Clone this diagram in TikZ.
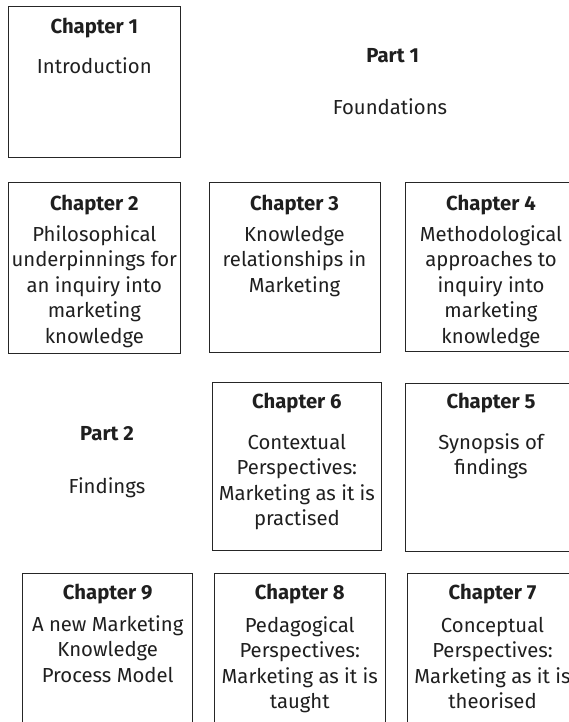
\documentclass[tikz,border=0pt]{standalone}
\usepackage{fontspec}
\setmainfont{Fira Sans}
\begin{document}
\begin{tikzpicture}[x=1pt,y=-1pt,
  chapbox/.style={draw=black!85, line width=1pt, inner sep=0pt},
  head/.style={font=\bfseries\fontsize{20.3}{25.5}\selectfont, text=black!88, anchor=base, inner sep=0pt},
  body/.style={font=\fontsize{20.3}{25.5}\selectfont, text=black!88, anchor=base, align=center, inner sep=0pt},
]
\useasboundingbox (0,0) rectangle (568,722);

% chapter frames
\node[chapbox, minimum width=171.3pt, minimum height=151.3pt] (c1) at (94.35,82.35) {};
\node[chapbox, minimum width=172pt, minimum height=170.3pt] (c2) at (94.3,267.85) {};
\node[chapbox, minimum width=171pt, minimum height=169.7pt] (c3) at (294.5,267.15) {};
\node[chapbox, minimum width=172pt, minimum height=169.4pt] (c4) at (491,267) {};
\node[chapbox, minimum width=169.7pt, minimum height=167.3pt] (c6) at (296.85,466.35) {};
\node[chapbox, minimum width=172pt, minimum height=167.7pt] (c5) at (491,467.15) {};
\node[chapbox, minimum width=170pt, minimum height=166.7pt] (c9) at (107.7,656.65) {};
\node[chapbox, minimum width=170.5pt, minimum height=166.7pt] (c8) at (299.75,656.65) {};
\node[chapbox, minimum width=171pt, minimum height=166.7pt] (c7) at (492.5,656.65) {};

% row 1 (body nodes are placed at the baseline of their last line)
\node[head] (h1) at (94.3,33.3) {Chapter 1};
\node[body] (t1) at (94.3,73.3) {Introduction};
\node[head] (p1) at (392.7,62.3) {Part 1};
\node[body] (p1t) at (390,115) {Foundations};

% row 2
\node[head] (h2) at (94.3,210) {Chapter 2};
\node[body] (t2) at (94.3,343) {Philosophical\\underpinnings for\\an inquiry into\\marketing\\knowledge};
\node[head] (h3) at (294.5,210) {Chapter 3};
\node[body] (t3) at (294.5,292) {Knowledge\\relationships in\\Marketing};
\node[head] (h4) at (491,210) {Chapter 4};
\node[body] (t4) at (491,343) {Methodological\\approaches to\\inquiry into\\marketing\\knowledge};

% row 3
\node[head] (p2) at (107,440.7) {Part 2};
\node[body] (p2t) at (107,493) {Findings};
\node[head] (h6) at (296.85,408.3) {Chapter 6};
\node[body] (t6) at (296.85,525.5) {Contextual\\Perspectives:\\Marketing as it is\\practised};
\node[head] (h5) at (491,408.3) {Chapter 5};
\node[body] (t5) at (491,474.5) {Synopsis of\\findings};

% row 4
\node[head] (h9) at (107.7,599.3) {Chapter 9};
\node[body] (t9) at (107.7,682) {A new Marketing\\Knowledge\\Process Model};
\node[head] (h8) at (299.75,599.3) {Chapter 8};
\node[body] (t8) at (299.75,708.5) {Pedagogical\\Perspectives:\\Marketing as it is\\taught};
\node[head] (h7) at (492.5,599.3) {Chapter 7};
\node[body] (t7) at (492.5,708.5) {Conceptual\\Perspectives:\\Marketing as it is\\theorised};
\end{tikzpicture}
\end{document}
